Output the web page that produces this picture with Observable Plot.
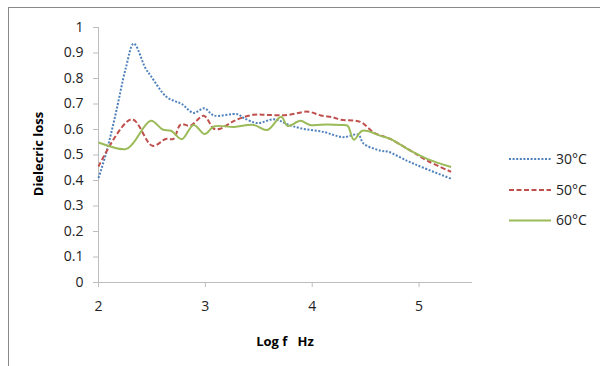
<!DOCTYPE html>
<html><head><meta charset="utf-8">
<script src="https://cdn.jsdelivr.net/npm/d3@7"></script>
<script src="https://cdn.jsdelivr.net/npm/@observablehq/plot@0.6"></script>
<style>
body{margin:0;background:#fff;}
#wrap{position:relative;width:600px;height:366px;overflow:hidden;}
#border{position:absolute;left:8px;top:7px;width:600px;height:370px;border:1px solid #8a8a8a;box-sizing:border-box;pointer-events:none;}
</style></head>
<body><div id="wrap"><div id="border"></div></div>
<script>
const series = ["30°C", "50°C", "60°C"];
const colors = ["#4f81bd", "#c0504d", "#9bbb59"];
const dashes = ["2,1.6", "5,2.5", null];

const logf30 = [2.0,2.07,2.16,2.255,2.33,2.44,2.49,2.63,2.72,2.78,2.89,2.99,3.08,3.30,3.36,3.49,3.63,3.69,3.77,3.89,4.11,4.29,4.43,4.48,4.64,4.71,4.89,5.04,5.3];
const loss30 = [0.41,0.505,0.66,0.84,0.937,0.84,0.81,0.73,0.71,0.70,0.665,0.683,0.655,0.66,0.645,0.625,0.64,0.635,0.62,0.605,0.59,0.57,0.58,0.545,0.517,0.513,0.477,0.45,0.407];

const logf50 = [2.0,2.31,2.505,2.63,2.70,2.77,2.86,2.985,3.08,3.14,3.27,3.45,3.58,3.77,3.96,4.08,4.20,4.27,4.45,4.58,4.73,4.92,5.08,5.3];
const loss50 = [0.455,0.64,0.536,0.563,0.563,0.62,0.615,0.654,0.603,0.603,0.634,0.658,0.657,0.657,0.67,0.655,0.647,0.638,0.63,0.587,0.563,0.517,0.477,0.434];

const logf60 = [2.0,2.255,2.32,2.49,2.6,2.68,2.78,2.89,2.995,3.08,3.27,3.45,3.58,3.71,3.77,3.89,3.98,4.14,4.27,4.33,4.39,4.47,4.64,4.73,4.92,5.08,5.3];
const loss60 = [0.549,0.523,0.544,0.634,0.6,0.595,0.562,0.618,0.582,0.612,0.61,0.618,0.598,0.65,0.614,0.634,0.618,0.62,0.618,0.615,0.56,0.595,0.575,0.563,0.517,0.484,0.453];

const xTicks = [2,3,4,5];
const yTicks = [0,0.1,0.2,0.3,0.4,0.5,0.6,0.7,0.8,0.9,1];

const lines = [[logf30,loss30],[logf50,loss50],[logf60,loss60]].map(([xs,ys],i)=>xs.map((x,j)=>({x,y:ys[j],s:series[i]})));

const axisColor = "#bdbdbd";
const font = "'Open Sans', sans-serif";

const plot = Plot.plot({
  width: 600, height: 366,
  marginLeft: 98, marginRight: 128, marginTop: 27, marginBottom: 84,
  style: {fontFamily: font, fontSize: "14px", color: "#222", background: "transparent"},
  x: {domain: [2, 5.5]},
  y: {domain: [0, 1]},
  marks: [
    Plot.ruleX([2], {stroke: axisColor, strokeWidth: 1}),
    Plot.ruleY([0], {stroke: axisColor, strokeWidth: 1}),
    Plot.axisX({ticks: xTicks, tickSize: 5, tickPadding: 14, stroke: axisColor, label: null, tickFormat: d3.format("d")}),
    Plot.axisY({ticks: yTicks, tickSize: 5, tickPadding: 10, stroke: axisColor, label: null, tickFormat: d => String(d)}),
    ...lines.map((data,i) => Plot.line(data, {x: "x", y: "y", stroke: colors[i], strokeWidth: 2, strokeDasharray: dashes[i], curve: "catmull-rom", strokeLinecap: "butt"}))
  ]
});
document.getElementById("wrap").appendChild(plot);
plot.style.position = "absolute"; plot.style.left = "0"; plot.style.top = "0";

const svg = d3.select(plot);
svg.append("text").attr("transform","translate(43,154) rotate(-90)").attr("text-anchor","middle")
  .attr("font-family",font).attr("font-weight","bold").attr("font-size","13px").attr("fill","#000").text("Dielecric loss");
svg.append("text").attr("x",285).attr("y",346).attr("text-anchor","middle")
  .attr("font-family",font).attr("font-weight","bold").attr("font-size","13px").attr("fill","#000").text("Log f\u00a0\u00a0\u00a0Hz");

const legY = [159, 190, 220.5];
series.forEach((s,i)=>{
  const g = svg.append("g");
  g.append("line").attr("x1",509).attr("x2",551).attr("y1",legY[i]).attr("y2",legY[i])
    .attr("stroke",colors[i]).attr("stroke-width",2).attr("stroke-dasharray",dashes[i]);
  g.append("text").attr("x",556).attr("y",legY[i]).attr("dy","0.35em").attr("text-anchor","start")
    .attr("font-family",font).attr("font-size","14px").attr("fill","#222").text(s);
});
</script></body></html>
